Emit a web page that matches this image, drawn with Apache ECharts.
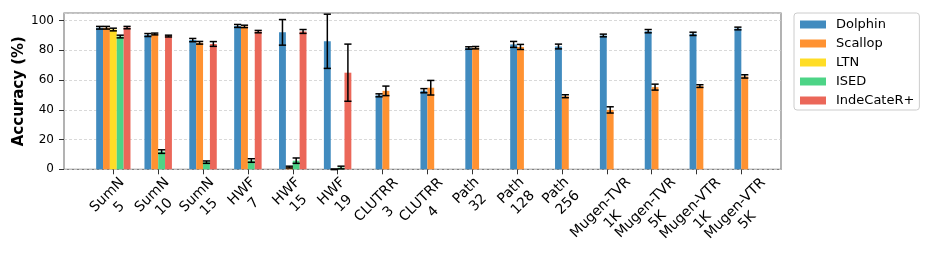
<!DOCTYPE html>
<html><head><meta charset="utf-8">
<script src="https://cdn.jsdelivr.net/npm/echarts@6/dist/echarts.min.js"></script>
<style>html,body{margin:0;padding:0;background:#fff}#c{width:932px;height:272px}</style>
</head><body><div id="c"></div>
<script>
// ---- data ----
const categories = ['SumN\n5','SumN\n10','SumN\n15','HWF\n7','HWF\n15','HWF\n19','CLUTRR\n3','CLUTRR\n4','Path\n32','Path\n128','Path\n256','Mugen-TVR\n1K','Mugen-TVR\n5K','Mugen-VTR\n1K','Mugen-VTR\n5K'];
const methods = ['Dolphin','Scallop','LTN','ISED','IndeCateR+'];
const dolphin      = [95.1, 90.2, 86.8, 96.3, 92.0, 86.0, 49.7, 52.8, 81.5, 83.9, 82.5, 89.9, 92.8, 91.0, 94.6];
const dolphinErr   = [0.9, 1.0, 1.1, 1.0, 8.6, 18.2, 1.0, 1.4, 0.8, 2.0, 1.6, 0.9, 1.1, 1.1, 0.9];
const scallop      = [95.1, 90.9, 85.0, 96.0, 1.5, 0.0, 52.7, 54.8, 81.7, 82.2, 49.1, 39.9, 55.2, 55.9, 62.4];
const scallopErr   = [0.9, 0.6, 0.9, 0.8, 0.6, 0.2, 3.2, 4.9, 0.8, 1.7, 1.0, 2.1, 2.0, 0.9, 1.1];
const ltn          = [93.9, null, null, null, null, null, null, null, null, null, null, null, null, null, null];
const ltnErr       = [0.9, null, null, null, null, null, null, null, null, null, null, null, null, null, null];
const ised         = [89.2, 11.9, 4.8, 5.9, 5.8, 1.2, null, null, null, null, null, null, null, null, null];
const isedErr      = [0.9, 1.2, 0.8, 1.2, 1.8, 0.9, null, null, null, null, null, null, null, null, null];
const indecater    = [95.2, 89.5, 84.2, 92.5, 92.6, 64.9, null, null, null, null, null, null, null, null, null];
const indecaterErr = [0.8, 0.6, 1.6, 0.8, 1.3, 19.2, null, null, null, null, null, null, null, null, null];
const yTickValues  = [0, 20, 40, 60, 80, 100];

// ---- build ----
const values = [dolphin, scallop, ltn, ised, indecater];
const errs = [dolphinErr, scallopErr, ltnErr, isedErr, indecaterErr];
const colors = ['#418bbf', '#ff9232', '#ffdd26', '#4dd486', '#eb6759'];
const FONT = '"DejaVu Sans", sans-serif';
const BAR_FRAC = 0.153;

const slotInfo = categories.map((c, i) => {
  const present = methods.map((m, k) => values[k][i] != null ? k : -1).filter(k => k >= 0);
  return { present, n: present.length };
});

// rotated label blocks: centre them like matplotlib (bbox centred under the tick)
const cv = document.createElement('canvas').getContext('2d');
cv.font = '14px "DejaVu Sans"';
const rich = {};
categories.forEach((label, i) => {
  const w = Math.max(...label.split('\n').map(s => cv.measureText(s).width));
  const p = Math.round(w / 2);
  rich['s' + i] = { fontSize: 1, lineHeight: p, height: p, align: 'center' };
  rich['t' + i] = { fontSize: 14, lineHeight: 17, fontFamily: FONT, color: '#000', align: 'center', padding: [0, p, 0, 0] };
});

function renderBar(params, api) {
  const i = api.value(0), v = api.value(1), e = api.value(2), slot = api.value(3), n = api.value(4);
  const base = api.coord([i, 0]);
  const top = api.coord([i, v]);
  const cw = api.size([1, 0])[0];
  const bw = cw * BAR_FRAC;
  const x0 = base[0] + (slot - n / 2) * bw;
  const xc = x0 + bw / 2;
  const yHi = api.coord([i, v + e])[1];
  const yLo = api.coord([i, v - e])[1];
  const cap = bw * 1.05;
  const color = api.visual('color');
  const ls = { stroke: '#000', lineWidth: 1.5 };
  return {
    type: 'group',
    children: [
      { type: 'rect', shape: { x: x0, y: top[1], width: bw, height: base[1] - top[1] }, style: { fill: color } },
      { type: 'line', shape: { x1: xc, y1: yLo, x2: xc, y2: yHi }, style: ls, z2: 5 },
      { type: 'line', shape: { x1: xc - cap / 2, y1: yHi, x2: xc + cap / 2, y2: yHi }, style: ls, z2: 5 },
      { type: 'line', shape: { x1: xc - cap / 2, y1: yLo, x2: xc + cap / 2, y2: yLo }, style: ls, z2: 5 }
    ]
  };
}

const series = methods.map((m, k) => ({
  name: m,
  type: 'custom',
  xAxisIndex: 1,
  yAxisIndex: 1,
  clip: false,
  itemStyle: { color: colors[k] },
  encode: { x: 0, y: 1 },
  renderItem: renderBar,
  data: categories.map((c, i) => values[k][i] == null ? null : [i, values[k][i], errs[k][i], slotInfo[i].present.indexOf(k), slotInfo[i].n]).filter(d => d)
}));

const PLOT_TOP = 13, PLOT_H = 156.3;
const option = {
  animation: false,
  textStyle: { fontFamily: FONT },
  grid: [
    { left: 64, top: PLOT_TOP, width: 717, height: PLOT_H, show: true, borderColor: '#808080', borderWidth: 1.2, backgroundColor: 'transparent', outerBoundsMode: 'none' },
    { left: 90.9, top: PLOT_TOP, width: 672.86, height: PLOT_H, outerBoundsMode: 'none' }
  ],
  xAxis: [
    { gridIndex: 0, type: 'value', min: 0, max: 1, show: false },
    { gridIndex: 1, type: 'category', data: categories, boundaryGap: true,
      axisLine: { show: false },
      axisTick: { show: true, alignWithLabel: true, length: 5, lineStyle: { color: '#333', width: 1 } },
      axisLabel: { interval: 0, rotate: 45, align: 'center', verticalAlign: 'middle', margin: 17,
        fontSize: 14, fontFamily: FONT, color: '#000', rich,
        formatter: (val, idx) => '{s' + idx + '| }\n' + val.split('\n').map(s => '{t' + idx + '|' + s + '}').join('\n') } }
  ],
  yAxis: [
    { gridIndex: 0, type: 'value', min: 0, max: 105, interval: 20,
      name: 'Accuracy (%)', nameLocation: 'middle', nameRotate: 90, nameGap: 37, nameMoveOverlap: false,
      nameTextStyle: { fontSize: 15, fontWeight: 'bold', fontFamily: FONT, color: '#000' },
      axisLine: { show: false },
      axisTick: { show: true, length: 5, lineStyle: { color: '#333' } },
      axisLabel: { fontSize: 12, fontFamily: FONT, color: '#000', margin: 10, showMaxLabel: false,
        formatter: v => yTickValues.indexOf(v) >= 0 ? String(v) : '' },
      splitLine: { show: true, lineStyle: { color: '#cfcfcf', width: 0.8, type: [3, 2] } } },
    { gridIndex: 1, type: 'value', min: 0, max: 105, show: false, splitLine: { show: false } }
  ],
  legend: {
    orient: 'vertical', left: 794, top: 13,
    padding: [5, 5, 3, 6], itemGap: 6, itemWidth: 26, itemHeight: 8,
    borderColor: '#cccccc', borderWidth: 1, borderRadius: 3,
    icon: 'rect',
    textStyle: { fontSize: 13, fontFamily: FONT, color: '#000', padding: [0, 0, 0, 5] },
    data: methods.map((m, k) => ({ name: m, itemStyle: { color: colors[k] } }))
  },
  series
};
echarts.init(document.getElementById('c'), null, { renderer: 'canvas' }).setOption(option);
</script></body></html>
